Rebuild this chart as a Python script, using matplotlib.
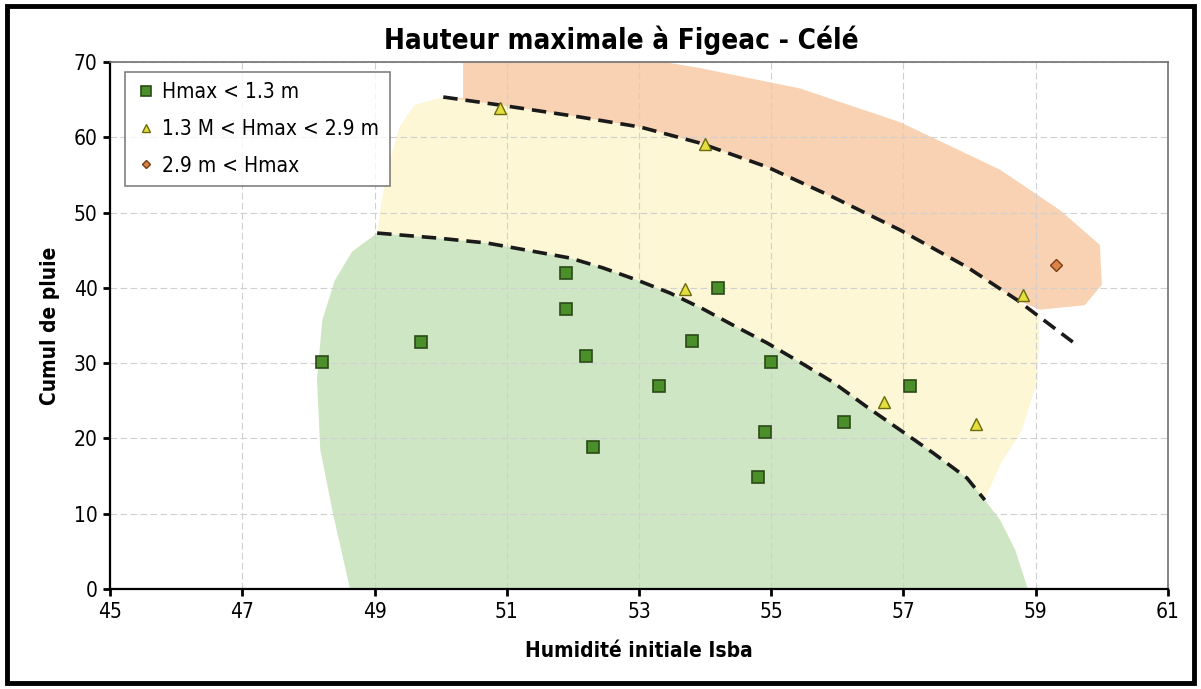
import numpy as np
import matplotlib
matplotlib.use("Agg")
import matplotlib.pyplot as plt
from matplotlib.patches import Rectangle

# police etroite pour imiter l'original
plt.rcParams['font.family'] = ['DejaVu Sans']
plt.rcParams['font.stretch'] = 'condensed'

# points Hmax < 1.3 m
sq_x = [48.2, 49.7, 51.9, 51.9, 52.2, 52.3, 53.3, 53.8, 54.2, 55.0, 54.9, 54.8, 56.1, 57.1]
sq_y = [30.2, 32.8, 42.0, 37.2, 30.9, 18.9, 27.0, 33.0, 40.0, 30.2, 20.8, 14.9, 22.2, 27.0]
# points 1.3 < Hmax < 2.9 m
tri_x = [50.9, 54.0, 53.7, 56.7, 58.1, 58.8]
tri_y = [63.9, 59.1, 39.8, 24.8, 21.9, 39.0]
# points 2.9 m < Hmax
dia_x = [59.3]
dia_y = [43.0]

# courbes de separation (tirets)
low_x = [49.04, 49.95, 50.70, 51.46, 51.96, 52.46, 52.97, 53.47, 53.97, 54.42,
         54.94, 55.43, 55.93, 56.45, 56.95, 57.45, 57.96, 58.23]
low_y = [47.28, 46.62, 45.96, 44.76, 43.96, 42.64, 41.04, 39.31, 37.19, 35.06,
         32.67, 30.15, 27.49, 24.17, 21.12, 18.06, 14.74, 11.82]
up_x = [50.04, 50.90, 52.11, 53.02, 53.92, 54.94, 55.93, 56.95, 57.96, 58.72, 59.56]
up_y = [65.35, 64.28, 62.69, 61.36, 59.24, 56.05, 52.07, 47.68, 42.77, 38.38, 32.81]

# contours des zones colorees
green_left_x = [48.63, 48.37, 48.18, 48.13, 48.21, 48.40, 48.66]
green_left_y = [0, 10.1, 18.5, 27.8, 35.7, 41.0, 44.8]
green_right_x = [58.46, 58.69, 58.88]
green_right_y = [9.2, 5.2, 0]

yellow_left_x = [49.11, 49.23, 49.39, 49.61]
yellow_left_y = [51.7, 57.0, 61.6, 64.3]
yellow_right_x = [59.06, 59.03, 58.79, 58.46]
yellow_right_y = [36.4, 27.8, 21.1, 16.5]

orange_top_x = [50.34, 52.71, 53.92, 55.43, 56.95, 58.46, 59.37, 59.97, 60.0, 59.74, 59.06]
orange_top_y = [71, 71, 69.2, 66.5, 62.0, 55.7, 50.3, 45.7, 40.4, 37.7, 37.1]

fig = plt.figure(figsize=(12.01, 6.89), dpi=100)
ax = fig.add_axes([0.0916, 0.1451, 0.8809, 0.7649])

# zone verte
gx = green_left_x + low_x + green_right_x
gy = green_left_y + low_y + green_right_y
# zone jaune
yx = [low_x[0]] + yellow_left_x + up_x[:-1] + yellow_right_x + low_x[::-1]
yy = [low_y[0]] + yellow_left_y + up_y[:-1] + yellow_right_y + low_y[::-1]
# zone orange
ox = orange_top_x + up_x[-2::-1] + [50.34]
oy = orange_top_y + up_y[-2::-1] + [65.2]
ax.fill(yx, yy, color='#fdf7d6', zorder=1, lw=0)
ax.fill(gx, gy, color='#cfe6c4', zorder=1.1, lw=0)
ax.fill(ox, oy, color='#f8d2b2', zorder=1, lw=0)

ax.plot(low_x, low_y, color='#1a1a1a', ls=(0, (4, 2.2)), lw=2.6, zorder=3)
ax.plot(up_x, up_y, color='#1a1a1a', ls=(0, (4, 2.2)), lw=2.6, zorder=3)

ax.plot(sq_x, sq_y, 's', ms=9, mfc='#4a8f2a', mec='#2b4a18', mew=1.2, ls='none',
        zorder=4, label='Hmax < 1.3 m')
ax.plot(tri_x, tri_y, '^', ms=8, mfc='#e4df3c', mec='#6b6a10', mew=1.0, ls='none',
        zorder=4, label='1.3 M < Hmax < 2.9 m')
ax.plot(dia_x, dia_y, 'D', ms=6, mfc='#d9854a', mec='#7a3b18', mew=1.0, ls='none',
        zorder=4, label='2.9 m < Hmax')

ax.set_xlim(45, 61)
ax.set_ylim(0, 70)
ax.set_xticks(np.arange(45, 62, 2))
ax.set_yticks(np.arange(0, 71, 10))
ax.set_axisbelow('line')
ax.grid(True, color='#d0d0d0', ls=(0, (6, 3)), lw=0.8, zorder=1.5)
ax.tick_params(labelsize=15, length=5, width=2, color='black', pad=4)

for s in ['left', 'bottom']:
    ax.spines[s].set_color('black')
    ax.spines[s].set_linewidth(1.6)
for s in ['top', 'right']:
    ax.spines[s].set_color('#707070')
    ax.spines[s].set_linewidth(1.2)

ax.set_xlabel('Humidité initiale Isba', fontsize=15, fontweight='bold', labelpad=14)
ax.set_ylabel('Cumul de pluie', fontsize=15, fontweight='bold', labelpad=10)
fig.text(0.517, 0.942, 'Hauteur maximale à Figeac - Célé', fontsize=20,
         fontweight='bold', ha='center', va='center')

leg = ax.legend(loc='upper left', fontsize=15, frameon=True, fancybox=False,
                edgecolor='#606060', borderpad=0.5, handletextpad=0.3,
                labelspacing=0.8, markerscale=0.75, handlelength=1.0,
                borderaxespad=0, bbox_to_anchor=(0.014, 0.981))
leg.get_frame().set_linewidth(1.2)

# cadre noir autour de la figure
fig.patches.append(Rectangle((0.006, 0.008), 0.988, 0.984, transform=fig.transFigure,
                             fill=False, ec='black', lw=3.5))

fig.savefig('out.png', dpi=100)
